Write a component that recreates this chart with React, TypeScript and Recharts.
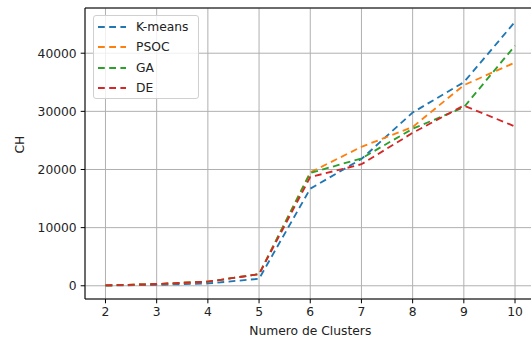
import React from 'react';
import { LineChart, Line, XAxis, YAxis, CartesianGrid, ReferenceLine } from 'recharts';

const clusters = [2, 3, 4, 5, 6, 7, 8, 9, 10];
const kmeans = [50, 150, 400, 1200, 16700, 21800, 29800, 35000, 45400];
const psoc = [60, 300, 700, 2000, 19500, 23900, 27300, 34500, 38400];
const ga = [60, 300, 700, 2000, 19400, 21900, 27000, 30700, 41300];
const de = [60, 300, 700, 2000, 18700, 20900, 26300, 31000, 27400];
const yTicks = [0, 10000, 20000, 30000, 40000];
const xTicks = clusters;

const seriesNames = ['K-means', 'PSOC', 'GA', 'DE'];
const colors = ['#1f77b4', '#ff7f0e', '#2ca02c', '#d62728'];

const data = clusters.map((c, i) => ({
  x: c,
  s0: kmeans[i],
  s1: psoc[i],
  s2: ga[i],
  s3: de[i],
}));

const yMin = -2275;
const yMax = 47775;
const FONT = '"DejaVu Sans", sans-serif';
const DASH = '6.8 4.4';

const LegendBox = () => (
  <div
    style={{
      position: 'absolute',
      left: 93,
      top: 15,
      width: 106,
      height: 84,
      border: '1px solid #d0d0d0',
      borderRadius: 3,
      background: 'rgba(255,255,255,0.8)',
      boxSizing: 'border-box',
      paddingTop: 1,
      fontFamily: FONT,
      fontSize: 12.3,
      color: '#222',
    }}
  >
    {seriesNames.map((n, i) => (
      <div key={n} style={{ height: 20.3, display: 'flex', alignItems: 'center' }}>
        <svg width={42} height={10} style={{ display: 'block' }}>
          <line x1={4} x2={32} y1={5} y2={5} stroke={colors[i]} strokeWidth={1.85} strokeDasharray={DASH} />
        </svg>
        <span>{n}</span>
      </div>
    ))}
  </div>
);

export default function App() {
  return (
    <div style={{ position: 'absolute', left: 0, top: 0, width: 531, height: 343, overflow: 'hidden', background: '#fff' }}>
      <LineChart
        width={545}
        height={343}
        data={data}
        margin={{ top: 8, right: 9.5, bottom: 0, left: 0 }}
      >
        <CartesianGrid stroke="#b0b0b0" strokeWidth={1} />
        <XAxis
          dataKey="x"
          type="number"
          domain={[1.6, 10.4]}
          ticks={xTicks}
          allowDataOverflow
          height={44}
          stroke="#000"
          tickSize={4.3}
          tickMargin={4}
          tick={{ fill: '#222', fontSize: 12.3, fontFamily: FONT }}
          label={{ value: 'Numero de Clusters', position: 'insideBottom', offset: 8, fill: '#222', fontSize: 12.3, fontFamily: FONT }}
        />
        <YAxis
          type="number"
          domain={[yMin, yMax]}
          ticks={yTicks}
          allowDataOverflow
          width={85}
          stroke="#000"
          tickSize={4.3}
          tickMargin={4}
          tick={{ fill: '#222', fontSize: 12.3, fontFamily: FONT }}
          label={{ value: 'CH', angle: -90, position: 'insideLeft', offset: 20, fill: '#222', fontSize: 12.3, fontFamily: FONT }}
        />
        <ReferenceLine y={yMax} stroke="#000" strokeWidth={1} />
        {seriesNames.map((n, i) => (
          <Line
            key={n}
            name={n}
            dataKey={`s${i}`}
            stroke={colors[i]}
            strokeWidth={1.85}
            strokeDasharray={DASH}
            dot={false}
            activeDot={false}
            isAnimationActive={false}
          />
        ))}
      </LineChart>
      <LegendBox />
    </div>
  );
}
